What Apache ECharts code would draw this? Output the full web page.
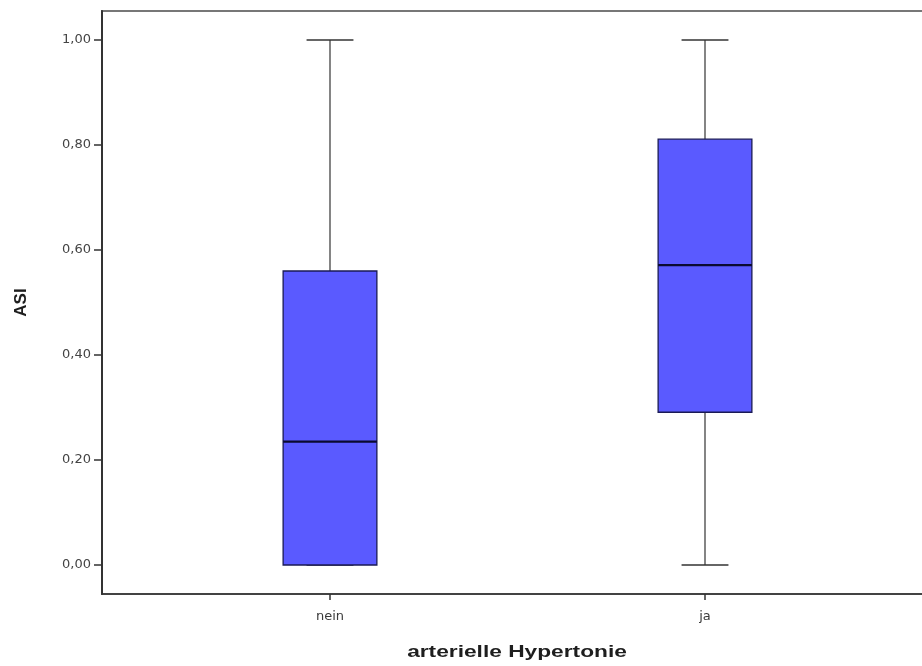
<!DOCTYPE html>
<html>
<head>
<meta charset="utf-8">
<script src="https://cdn.jsdelivr.net/npm/echarts@6/dist/echarts.min.js"></script>
<style>
  html, body { margin: 0; padding: 0; background: #fff; }
  #chart { width: 922px; height: 666px; }
</style>
</head>
<body>
<div id="chart"></div>
<script>
// Groups on the x axis
const categories = ['nein', 'ja'];
// Five-number summaries per group: min, Q1, median, Q3, max
const whiskerLow  = [0.00, 0.00];
const quartile1   = [0.00, 0.291];
const medians     = [0.235, 0.571];
const quartile3   = [0.56, 0.811];
const whiskerHigh = [1.00, 1.00];
// Y tick values
const yTicks = [0, 0.2, 0.4, 0.6, 0.8, 1.0];
// Axis titles
const xTitle = 'arterielle Hypertonie';
const yTitle = 'ASI';

const boxData = categories.map((c, i) => [i, whiskerLow[i], quartile1[i], medians[i], quartile3[i], whiskerHigh[i]]);

const chart = echarts.init(document.getElementById('chart'), null, { renderer: 'canvas' });

function renderBox(params, api) {
  const x = api.value(0);
  const lo = api.coord([x, api.value(1)]);
  const q1 = api.coord([x, api.value(2)]);
  const md = api.coord([x, api.value(3)]);
  const q3 = api.coord([x, api.value(4)]);
  const hi = api.coord([x, api.value(5)]);
  const bw = api.size([0.25, 0])[0];
  const half = bw / 2;
  const cap = bw / 4;
  const cx = lo[0];
  const children = [];
  // upper whisker and cap
  children.push({ type: 'line', shape: { x1: cx, y1: q3[1], x2: cx, y2: hi[1] }, style: { stroke: '#333', lineWidth: 1.2 } });
  children.push({ type: 'line', shape: { x1: cx - cap, y1: hi[1], x2: cx + cap, y2: hi[1] }, style: { stroke: '#333', lineWidth: 1.5 } });
  // lower whisker and cap
  if (lo[1] - q1[1] > 0.5) {
    children.push({ type: 'line', shape: { x1: cx, y1: q1[1], x2: cx, y2: lo[1] }, style: { stroke: '#333', lineWidth: 1.2 } });
  }
  children.push({ type: 'line', shape: { x1: cx - cap, y1: lo[1], x2: cx + cap, y2: lo[1] }, style: { stroke: '#333', lineWidth: 1.5 } });
  // box
  children.push({ type: 'rect', shape: { x: cx - half, y: q3[1], width: bw, height: q1[1] - q3[1] }, style: { fill: '#5a5aff', stroke: '#1a1a55', lineWidth: 1.3 } });
  // median
  children.push({ type: 'line', shape: { x1: cx - half, y1: md[1], x2: cx + half, y2: md[1] }, style: { stroke: '#0a0a30', lineWidth: 2.2 } });
  return { type: 'group', children };
}

chart.setOption({
  animation: false,
  backgroundColor: '#fff',
  grid: {
    left: 102, top: 11, width: 831, bottom: 72,
    outerBoundsMode: 'none',
    containLabel: false,
    show: true, borderColor: '#777', borderWidth: 2, backgroundColor: 'transparent'
  },
  // wide bold x-axis title, centred under the plot frame
  graphic: [{
    type: 'text',
    x: 517, y: 653,
    scaleX: 1.42,
    silent: true,
    style: {
      text: xTitle,
      align: 'center', verticalAlign: 'middle',
      font: 'bold 16px "Liberation Sans", Arial, sans-serif',
      fill: '#1e1e1e'
    }
  }],
  xAxis: {
    type: 'value',
    min: -0.608, max: 1.608,
    axisLine: { show: true, onZero: false, lineStyle: { color: '#333', width: 1.5 } },
    axisTick: { show: true, customValues: [0, 1], length: 6, lineStyle: { color: '#333', width: 1.5 } },
    axisLabel: {
      customValues: [0, 1],
      formatter: v => categories[Math.round(v)] || '',
      fontFamily: 'DejaVu Sans, sans-serif', fontSize: 13, color: '#3a3a3a', margin: 16
    },
    splitLine: { show: false }
  },
  yAxis: {
    type: 'value',
    min: -0.0552, max: 1.0552,
    name: yTitle,
    nameLocation: 'middle',
    nameRotate: 90,
    nameGap: 72,
    nameTextStyle: { fontFamily: 'Liberation Sans, Arial, sans-serif', fontWeight: 'bold', fontSize: 17, color: '#1e1e1e' },
    axisLine: { show: true, onZero: false, lineStyle: { color: '#333', width: 2 } },
    axisTick: { show: true, customValues: yTicks, length: 8, lineStyle: { color: '#333', width: 1.5 } },
    axisLabel: {
      customValues: yTicks,
      formatter: v => v.toFixed(2).replace('.', ','),
      fontFamily: 'DejaVu Sans, sans-serif', fontSize: 13, color: '#444', margin: 11
    },
    splitLine: { show: false }
  },
  series: [{
    type: 'custom',
    renderItem: renderBox,
    encode: { x: 0, y: [1, 2, 3, 4, 5] },
    data: boxData,
    clip: false
  }]
});
</script>
</body>
</html>
